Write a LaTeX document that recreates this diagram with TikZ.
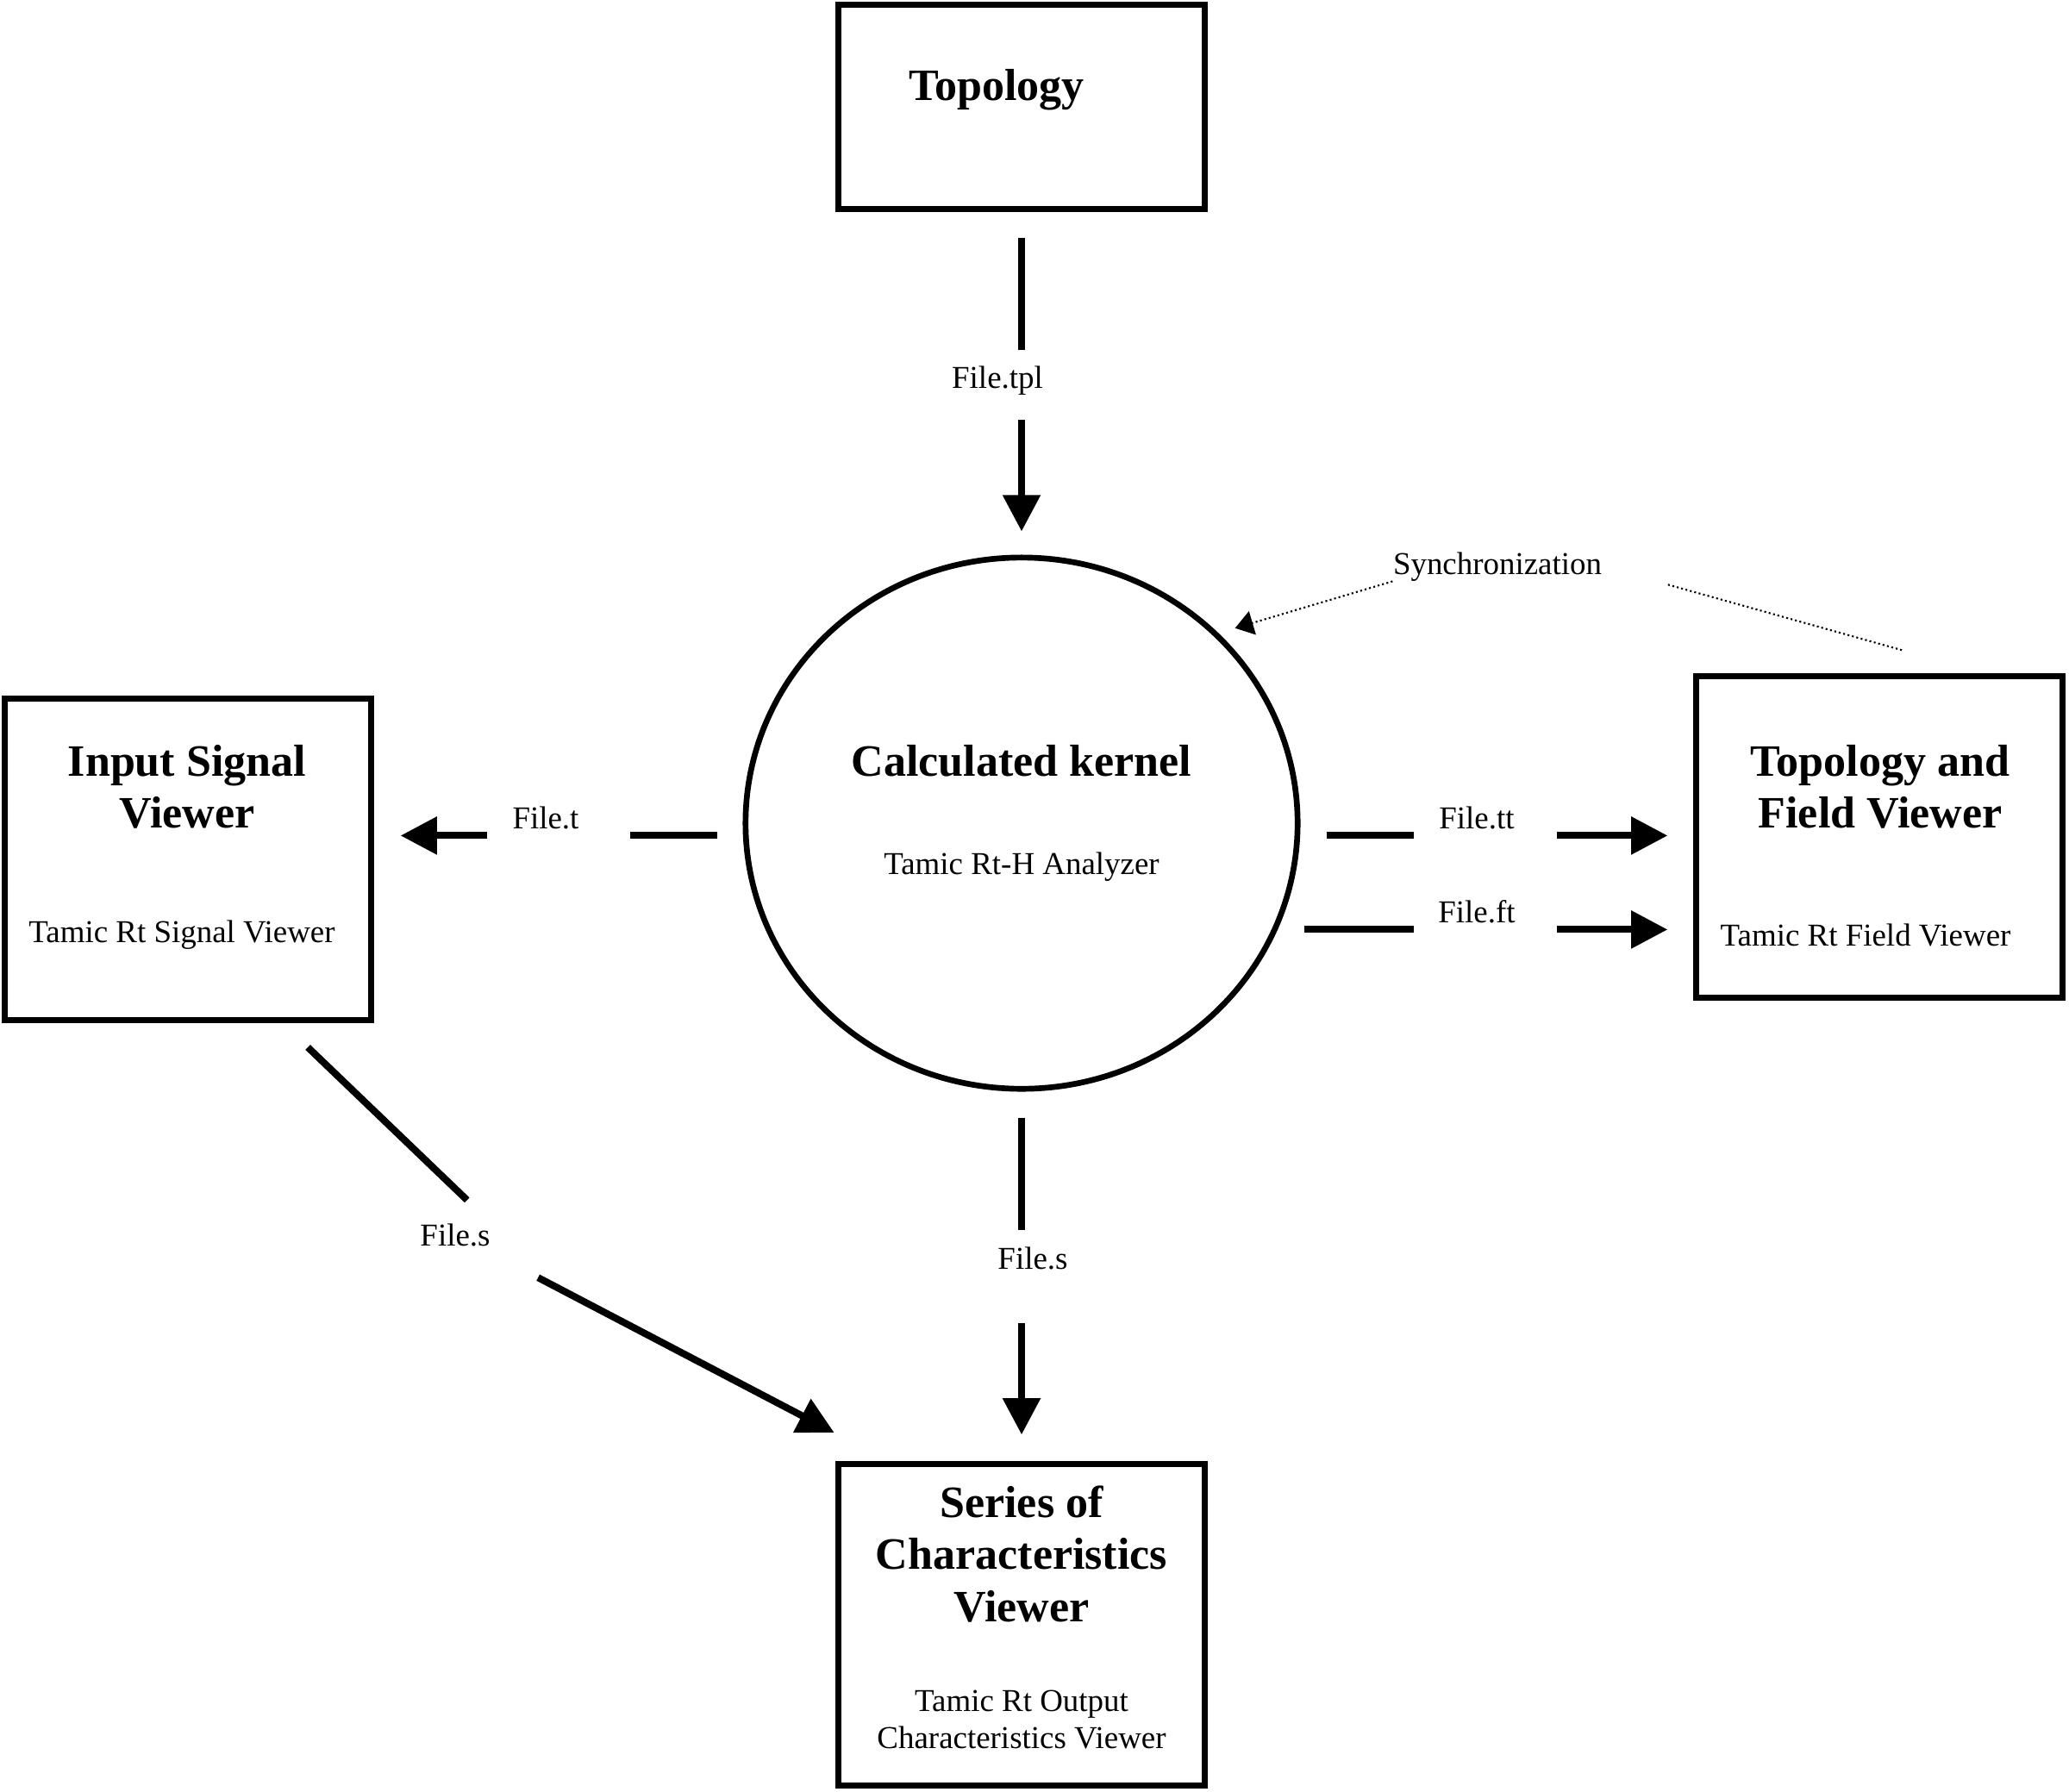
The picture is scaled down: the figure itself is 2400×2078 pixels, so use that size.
\documentclass[tikz,border=0pt]{standalone}
\usepackage{fontspec}
\setmainfont{Liberation Serif}
\usetikzlibrary{positioning, arrows.meta, shapes.geometric}
\newcommand{\titlefont}{\fontsize{14.8}{17.1}\selectfont\bfseries}
\newcommand{\subfont}{\fontsize{10.5}{12.5}\selectfont}

\begin{document}
\begin{tikzpicture}[
  x=0.01cm, y=-0.01cm,
  box/.style = {rectangle, draw, line width=2pt, minimum width=4.24cm, minimum height=3.72cm},
  kern/.style = {ellipse, draw, line width=1.9pt, minimum width=6.4cm, minimum height=6.16cm},
  title/.style = {font=\titlefont, align=center, inner sep=0pt},
  sub/.style = {font=\subfont, align=center, inner sep=0pt},
  lbl/.style = {font=\subfont, inner sep=0pt, text height=7.5pt, text depth=2pt},
  seg/.style = {line width=2.3pt},
  arrow/.style = {line width=2.3pt, -{Triangle[length=12pt, width=12pt]}},
  sync/.style = {line width=0.6pt, dash pattern=on 0.6pt off 0.9pt}
  ]
\useasboundingbox (0,0) rectangle (2400,2078);

\node[box, minimum height=2.36cm] (topo) at (1185,124) {};
\node[title] (topotxt) at (1156,104) {Topology};

\node[kern] (kernel) at (1185,955) {};
\node[title] (kerntxt) at (1185,883) {Calculated kernel};
\node[sub] (kernsub) at (1185,1006) {Tamic Rt-H Analyzer};

\node[box] (isv) at (218,997) {};
\node[title] (isvtxt) at (217,913) {Input Signal\\Viewer};
\node[sub] (isvsub) at (211,1085) {Tamic Rt Signal Viewer};

\node[box] (tfv) at (2180,971) {};
\node[title] (tfvtxt) at (2181,913) {Topology and\\Field Viewer};
\node[sub] (tfvsub) at (2164,1085) {Tamic Rt Field Viewer};

\node[box] (scv) at (1185,1885) {};
\node[title] (scvtxt) at (1185,1803) {Series of\\Characteristics\\Viewer};
\node[sub] (scvsub) at (1185,1995) {Tamic Rt Output\\Characteristics Viewer};

% file labels
\node[lbl] (ltpl) at (1157,441) {File.tpl};
\node[lbl] (lt) at (633,952) {File.t};
\node[lbl] (ltt) at (1713,952) {File.tt};
\node[lbl] (lft) at (1713,1061) {File.ft};
\node[lbl] (lsk) at (1198,1463) {File.s};
\node[lbl] (lsi) at (528,1436) {File.s};
\node[lbl] (lsync) at (1737,657) {Synchronization};
\coordinate (syncend) at (2209,755);

% topology -> kernel
\draw[seg, shorten <=0.30cm, shorten >=0.18cm] (topo.south) -- (topo.south |- ltpl.north);
\draw[arrow, shorten <=0.29cm, shorten >=0.27cm] (topo.south |- ltpl.south) -- (kernel.north);

% kernel -> viewers
\draw[seg, shorten <=0.29cm, shorten >=0.585cm] (kernel.west |- lt.south) -- (lt.south east);
\draw[arrow, shorten <=0.285cm, shorten >=0.31cm] (lt.south west) -- (isv.east |- lt.south);
\draw[seg, shorten <=0.30cm, shorten >=0.285cm] (kernel.east |- ltt.south) -- (ltt.south west);
\draw[arrow, shorten <=0.485cm, shorten >=0.30cm] (ltt.south east) -- (tfv.west |- ltt.south);
\draw[seg, shorten <=0.04cm, shorten >=0.275cm] (kernel.east |- lft.south) -- (lft.south west);
\draw[arrow, shorten <=0.475cm, shorten >=0.30cm] (lft.south east) -- (tfv.west |- lft.south);
\draw[seg, shorten <=0.30cm, shorten >=0.19cm] (kernel.south) -- (kernel.south |- lsk.north);
\draw[arrow, shorten <=0.55cm, shorten >=0.31cm] (kernel.south |- lsk.south) -- (scv.north);

% input signal viewer -> series viewer
\draw[seg, shorten <=0.41cm, shorten >=0.38cm] (isv.-60) -- (lsi.north east);
\draw[arrow, shorten <=0.62cm, shorten >=0.72cm] (lsi.south east) -- (scv.129);

% synchronization
\draw[sync, -{Triangle[length=6pt, width=8pt]}, shorten >=0.2cm] (lsync.south west) -- (kernel.44);
\draw[sync, shorten <=0.79cm] (lsync.east) -- (syncend);

\end{tikzpicture}
\end{document}
